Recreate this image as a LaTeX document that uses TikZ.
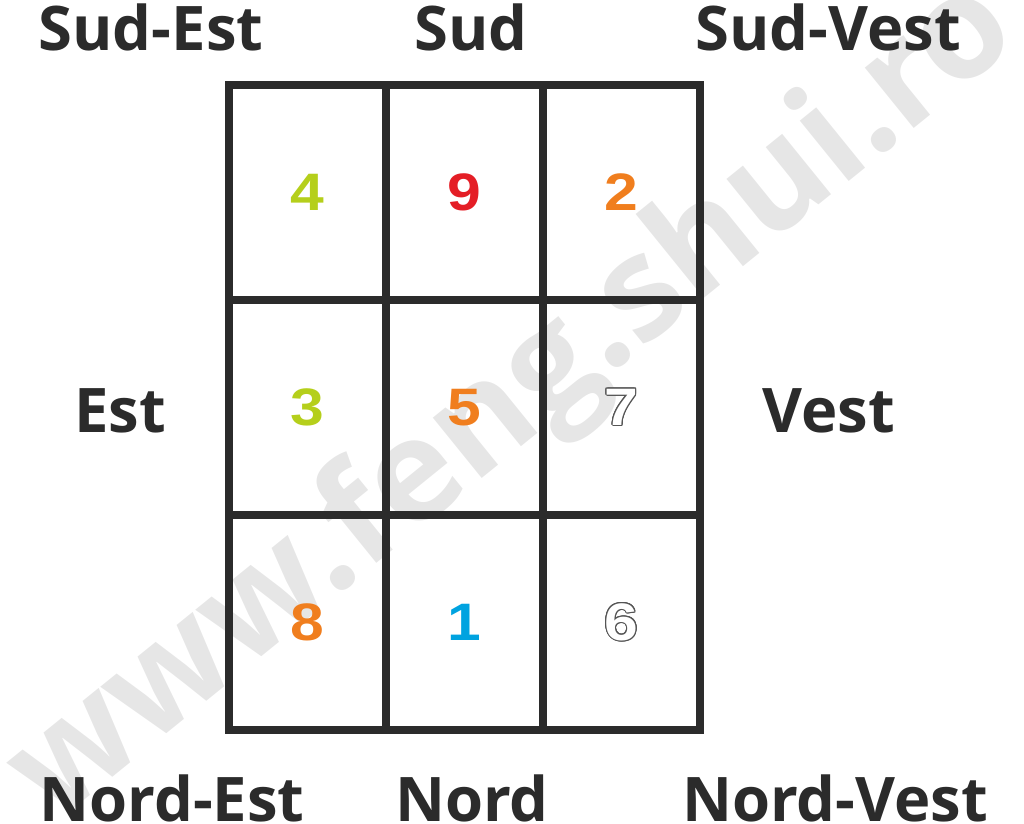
\documentclass[tikz,border=0pt]{standalone}
\usepackage{fontspec}
\usepackage{contour}
\setmainfont{Open Sans}
\newfontfamily\digitfont[FakeStretch=1.15]{Liberation Sans}
\definecolor{ink}{HTML}{2b2b2b}
\definecolor{mark}{HTML}{e6e6e6}
\definecolor{wood}{HTML}{b5cf1b}
\definecolor{fire}{HTML}{e41e26}
\definecolor{earth}{HTML}{f07e1e}
\definecolor{water}{HTML}{00a3e0}
\definecolor{metal}{HTML}{555555}
\contourlength{0.6pt}

\tikzset{
  dir/.style={font=\bfseries\fontsize{35}{40}\selectfont, text=ink, anchor=base, inner sep=0},
  cell/.style={draw=ink, line width=4.5pt, minimum width=3.14cm, minimum height=4.3cm, inner sep=0,
    font=\digitfont\bfseries\fontsize{30}{36}\selectfont},
}

\begin{document}
\begin{tikzpicture}[x=0.02cm, y=-0.02cm]
    \useasboundingbox (0,0) rectangle (1024,824);

    % Watermark
    \node[text=mark, font=\bfseries\fontsize{81}{86}\selectfont, anchor=base west, inner sep=0, rotate=39]
        (watermark) at (54,825) {www.feng.shui.ro};

    % Draw the grid
    \node[cell, text=wood] (se) at (307.5,192.5) {4};
    \node[cell, text=fire] (s) at (464.5,192.5) {9};
    \node[cell, text=earth] (sv) at (621.5,192.5) {2};
    \node[cell, text=wood] (e) at (307.5,407.5) {3};
    \node[cell, text=earth] (c) at (464.5,407.5) {5};
    \node[cell] (v) at (621.5,407.5) {\contour{metal}{\color{white}7}};
    \node[cell, text=earth] (ne) at (307.5,622.5) {8};
    \node[cell, text=water] (n) at (464.5,622.5) {1};
    \node[cell] (nv) at (621.5,622.5) {\contour{metal}{\color{white}6}};

    % Labels
    \node[dir] (sudest) at (151,51) {Sud-Est};
    \node[dir] (sud) at (471,51) {Sud};
    \node[dir] (sudvest) at (828,51) {Sud-Vest};
    \node[dir] (est) at (120,432) {Est};
    \node[dir] (vest) at (829,432) {Vest};
    \node[dir] (nordest) at (172,821) {Nord-Est};
    \node[dir] (nord) at (472,821) {Nord};
    \node[dir] (nordvest) at (835,821) {Nord-Vest};
\end{tikzpicture}
\end{document}
